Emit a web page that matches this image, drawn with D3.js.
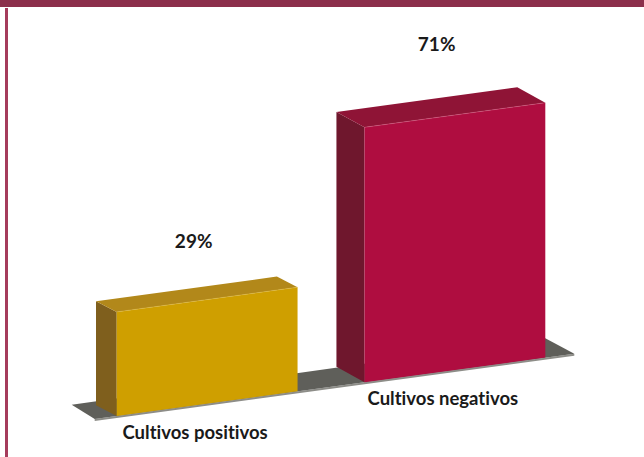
<!DOCTYPE html>
<html>
<head>
<meta charset="utf-8">
<script src="https://cdn.jsdelivr.net/npm/d3@7"></script>
<style>
  body { margin: 0; background: #fff; }
  svg { display: block; }
  text { font-variant-ligatures: none; font-feature-settings: "liga" 0, "dlig" 0; }
</style>
</head>
<body>
<div id="chart"></div>
<script>
// data
var categories = ['Cultivos positivos', 'Cultivos negativos'];
var values = [29, 71];
var valueLabels = ['29%', '71%'];

// colours: front, top, side
var palette = [
  { front: '#cf9f00', top: '#b2881a', side: '#7f5f1d', edge: '#e2bd4a' },
  { front: '#af0d40', top: '#8f1436', side: '#6f172d', edge: '#d8678a' }
];

var width = 644, height = 457;
var svg = d3.select('#chart').append('svg')
  .attr('width', width)
  .attr('height', height);

// frame
svg.append('rect').attr('x', 0).attr('y', 0).attr('width', width).attr('height', 7).attr('fill', '#8c2f4b');
svg.append('rect').attr('x', 5).attr('y', 8).attr('width', 3).attr('height', height - 8).attr('fill', '#a53c5c');

// pseudo 3d projection
var x0 = 116.7, baseY = 416, skew = 0.1363;
var xScale = d3.scaleBand()
  .domain(categories)
  .range([116.7, 545.3])
  .paddingInner(0.27)
  .paddingOuter(0);
var yScale = d3.scaleLinear().domain([0, 100]).range([0, 359]);
var depthX = d3.scaleLinear().domain([116.7, 364.3]).range([-20.7, -28]);
var depthY = d3.scaleLinear().domain([116.7, 364.3]).range([-10.7, -15.4]);

function base(x) { return baseY - (x - x0) * skew; }
function pts(a) { return a.map(function (p) { return p.join(','); }).join(' '); }

// floor
var r = xScale.range();
var fl = r[0] - 22, fr = r[1] + 29;
var FL = [fl, base(fl)], FR = [fr, base(fr)];
var BL = [fl - 23, base(fl) - 14.3], BR = [fr - 29, base(fr) - 15.3];
var floor = svg.append('g').attr('class', 'floor');
floor.append('polygon')
  .attr('points', pts([[FL[0], FL[1]], [FR[0], FR[1]], [FR[0], FR[1] + 2], [FL[0], FL[1] + 2]]))
  .attr('fill', '#8d8d88');
floor.append('polygon')
  .attr('points', pts([BL, BR, FR, FL]))
  .attr('fill', '#5f5f5a');

// bars
var bars = svg.selectAll('.bar')
  .data(categories)
  .enter()
  .append('g')
  .attr('class', 'bar');

bars.each(function (c, i) {
  var g = d3.select(this);
  var xl = xScale(c), xr = xl + xScale.bandwidth();
  var h = yScale(values[i]);
  var dx = depthX(xl), dy = depthY(xl);
  var fbl = [xl, base(xl)], fbr = [xr, base(xr)];
  var ftl = [xl, base(xl) - h], ftr = [xr, base(xr) - h];
  var btl = [xl + dx, ftl[1] + dy], btr = [xr + dx, ftr[1] + dy];
  var bbl = [xl + dx, fbl[1] + dy];
  var col = palette[i];

  g.append('polygon').attr('points', pts([ftl, btl, bbl, fbl])).attr('fill', col.side);
  g.append('polygon').attr('points', pts([ftl, ftr, btr, btl])).attr('fill', col.top);
  g.append('polygon').attr('points', pts([ftl, ftr, fbr, fbl])).attr('fill', col.front);
  g.append('line')
    .attr('x1', ftl[0]).attr('y1', ftl[1]).attr('x2', ftr[0]).attr('y2', ftr[1])
    .attr('stroke', col.edge).attr('stroke-width', 0.6).attr('stroke-opacity', 0.7);

  var cx = (xl + xr) / 2;
  // value label above the bar
  g.append('text')
    .attr('x', cx + dx * 0.65)
    .attr('y', base(cx) - h + dy - (35.5 + h * 0.053))
    .attr('text-anchor', 'middle')
    .attr('font-family', 'Lato, "Open Sans", sans-serif')
    .attr('font-weight', 'bold')
    .attr('font-size', 19)
    .attr('fill', '#1a1a1a')
    .text(valueLabels[i]);

  // category label below
  g.append('text')
    .attr('x', cx - 12)
    .attr('y', base(cx) + 35.5)
    .attr('text-anchor', 'middle')
    .attr('font-family', 'Lato, "Open Sans", sans-serif')
    .attr('font-weight', 'bold')
    .attr('font-size', 18.5)
    .attr('fill', '#1a1a1a')
    .text(c);
});
</script>
</body>
</html>
